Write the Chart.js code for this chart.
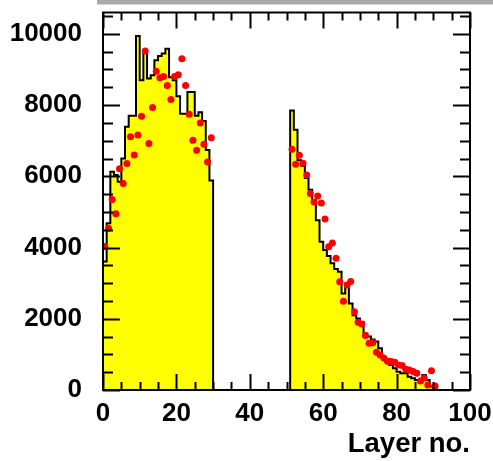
<!DOCTYPE html>
<html>
<head>
<meta charset="utf-8">
<script src="https://cdn.jsdelivr.net/npm/chart.js@4.4.1/dist/chart.umd.min.js"></script>
<style>
  html, body { margin: 0; padding: 0; background: #ffffff; }
  #wrap { width: 493px; height: 461px; }
</style>
</head>
<body>
<div id="wrap"><canvas id="layerChart" width="493" height="461"></canvas></div>
<script>
// Counts per layer, simulated (histogram) and measured (markers)
const frontFirstLayer = 0;
const frontSim = [3610, 4680, 6130, 6040, 5850, 6500, 7390, 7700, 7700, 9940,
                  8700, 9550, 8750, 8840, 9260, 9380, 9450, 9580, 8780, 8700,
                  8250, 7760, 7760, 8370, 8370, 7700, 7800, 7550, 6740, 5880];
const frontData = [4030, 4540, 5350, 4950, 6210, 5800, 6360, 7110, 6600, 7160,
                   7690, 9520, 6920, 7930, 8950, 8770, 8800, 8550, 8160, 8800,
                   8850, 9300, 8550, 7740, 7010, 6730, 7500, 6900, 6400, 7080];

const backFirstLayer = 51;
const backSim = [7850, 7310, 6450, 6300, 5950, 5620, 5330, 4770, 4160, 3930,
                 3760, 3560, 3400, 3320, 2710, 2990, 2430, 2100, 2010, 1910,
                 1590, 1500, 1420, 1360, 1170, 930, 860, 700, 610, 515,
                 470, 470, 375, 330, 280, 280, 420, 280, 100, 60];
const backData = [6760, 6340, 6590, 6370, 6040, 5520, 5280, 5450, 5250, 4800,
                  4020, 4130, 3700, 3040, 2490, 2950, 3050, 2200, 1900, 1850,
                  1530, 1310, 1330, 1060, 980, 900, 810, 800, 780, 700,
                  690, 580, 560, 520, 470, 250, 340, 140, 540, 110];

const xTicks = [0, 20, 40, 60, 80, 100];
const yTicks = [0, 2000, 4000, 6000, 8000, 10000];

// outline of a histogram: left edge of each bin, closed down to zero at both ends
function histPoints(first, counts) {
  const pts = [{ x: first, y: 0 }];
  counts.forEach((c, i) => pts.push({ x: first + i, y: c }));
  pts.push({ x: first + counts.length, y: 0 });
  return pts;
}

function markerPoints(first, counts) {
  return counts.map((c, i) => ({ x: first + i + 0.5, y: c }));
}

const histStyle = {
  type: 'line',
  stepped: 'before',
  fill: 'origin',
  backgroundColor: '#ffff00',
  borderColor: '#000000',
  borderWidth: 2,
  pointRadius: 0,
  tension: 0,
  order: 2
};

const markerStyle = {
  type: 'scatter',
  backgroundColor: '#ff0000',
  borderColor: '#ff0000',
  borderWidth: 0,
  pointRadius: 3.5,
  pointStyle: 'circle',
  order: 1
};

// ROOT-like frame: box with inward ticks on all four sides
const framePlugin = {
  id: 'rootFrame',
  beforeDraw(chart) {
    const { ctx } = chart;
    ctx.save();
    ctx.fillStyle = '#a9a9a9';
    ctx.fillRect(97, 0, 396, 4);
    ctx.fillStyle = '#d6d6d6';
    ctx.fillRect(97, 4, 396, 1);
    ctx.restore();
  },
  afterDatasetsDraw(chart) {
    const { ctx, chartArea: a, scales } = chart;
    const xs = scales.x, ys = scales.y;
    ctx.save();
    ctx.strokeStyle = '#000000';
    ctx.lineWidth = 2;
    ctx.beginPath();
    for (let v = xs.min; v <= xs.max; v += 5) {
      const px = Math.round(xs.getPixelForValue(v)) + 0.5;
      const len = v % 20 === 0 ? 16 : 8;
      ctx.moveTo(px, a.bottom); ctx.lineTo(px, a.bottom - len);
      ctx.moveTo(px, a.top); ctx.lineTo(px, a.top + len);
    }
    for (let v = ys.min; v <= ys.max; v += 500) {
      const py = Math.round(ys.getPixelForValue(v)) + 0.5;
      const len = v % 2000 === 0 ? 17 : 10;
      ctx.moveTo(a.left, py); ctx.lineTo(a.left + len, py);
      ctx.moveTo(a.right, py); ctx.lineTo(a.right - len, py);
    }
    ctx.stroke();
    ctx.strokeRect(a.left, a.top, a.right - a.left, a.bottom - a.top);
    ctx.restore();
  }
};

const tickFont = { family: '"Liberation Sans", Arial, sans-serif', size: 26, weight: 'bold' };
const titleFont = { family: '"Liberation Sans", Arial, sans-serif', size: 27.5, weight: 'bold' };

new Chart(document.getElementById('layerChart'), {
  type: 'line',
  data: {
    datasets: [
      Object.assign({ data: histPoints(frontFirstLayer, frontSim) }, histStyle),
      Object.assign({ data: histPoints(backFirstLayer, backSim) }, histStyle),
      Object.assign({ data: markerPoints(frontFirstLayer, frontData) }, markerStyle),
      Object.assign({ data: markerPoints(backFirstLayer, backData) }, markerStyle)
    ]
  },
  options: {
    responsive: false,
    animation: false,
    layout: { padding: { top: 12.5, right: 23, left: 0, bottom: 0 } },
    plugins: { legend: { display: false }, tooltip: { enabled: false } },
    scales: {
      x: {
        type: 'linear',
        min: 0,
        max: 100,
        afterFit: s => { s.height = 71; s.paddingLeft = 0; s.paddingRight = 0; },
        afterBuildTicks: s => { s.ticks = xTicks.map(v => ({ value: v })); },
        grid: { display: false, drawTicks: false },
        border: { display: false },
        ticks: { color: '#000', font: tickFont, padding: 8, maxRotation: 0, callback: v => String(v) },
        title: {
          display: true,
          text: 'Layer no.',
          align: 'end',
          color: '#000',
          font: titleFont,
          padding: { top: 0, bottom: 0 }
        }
      },
      y: {
        min: 0,
        max: 10600,
        afterFit: s => { s.width = 103; s.paddingTop = 0; s.paddingBottom = 0; },
        afterBuildTicks: s => { s.ticks = yTicks.map(v => ({ value: v })); },
        grid: { display: false, drawTicks: false },
        border: { display: false },
        ticks: { color: '#000', font: tickFont, padding: 21, callback: v => String(v) }
      }
    }
  },
  plugins: [framePlugin]
});
</script>
</body>
</html>
